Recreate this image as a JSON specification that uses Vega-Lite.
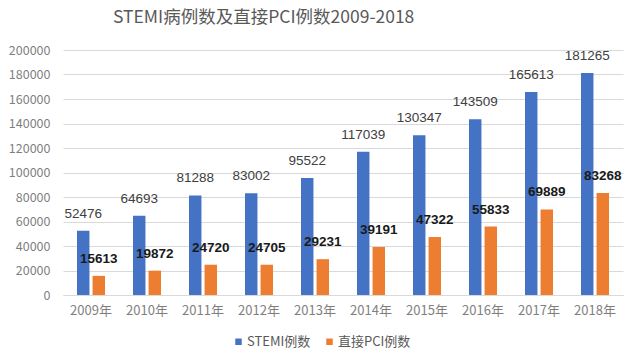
{
  "$schema": "https://vega.github.io/schema/vega-lite/v6.json",
  "autosize": {"type": "none"},
  "width": 560,
  "height": 245,
  "padding": {"left": 63, "top": 50, "right": 7, "bottom": 64},
  "background": "white",
  "config": {"view": {"stroke": null}, "font": "Noto Sans CJK SC"},
  "title": {
    "text": "STEMI病例数及直接PCI例数2009-2018",
    "anchor": "start",
    "frame": "group",
    "dx": 50,
    "offset": 18,
    "fontSize": 17.5,
    "fontWeight": "normal",
    "color": "#595959",
    "font": "Noto Sans CJK SC"
  },
  "data": {
    "values": [
      {"year": "2009年", "series": "STEMI例数", "value": 52476},
      {"year": "2009年", "series": "直接PCI例数", "value": 15613},
      {"year": "2010年", "series": "STEMI例数", "value": 64693},
      {"year": "2010年", "series": "直接PCI例数", "value": 19872},
      {"year": "2011年", "series": "STEMI例数", "value": 81288},
      {"year": "2011年", "series": "直接PCI例数", "value": 24720},
      {"year": "2012年", "series": "STEMI例数", "value": 83002},
      {"year": "2012年", "series": "直接PCI例数", "value": 24705},
      {"year": "2013年", "series": "STEMI例数", "value": 95522},
      {"year": "2013年", "series": "直接PCI例数", "value": 29231},
      {"year": "2014年", "series": "STEMI例数", "value": 117039},
      {"year": "2014年", "series": "直接PCI例数", "value": 39191},
      {"year": "2015年", "series": "STEMI例数", "value": 130347},
      {"year": "2015年", "series": "直接PCI例数", "value": 47322},
      {"year": "2016年", "series": "STEMI例数", "value": 143509},
      {"year": "2016年", "series": "直接PCI例数", "value": 55833},
      {"year": "2017年", "series": "STEMI例数", "value": 165613},
      {"year": "2017年", "series": "直接PCI例数", "value": 69889},
      {"year": "2018年", "series": "STEMI例数", "value": 181265},
      {"year": "2018年", "series": "直接PCI例数", "value": 83268}
    ]
  },
  "encoding": {
    "x": {
      "field": "year", "type": "nominal", "sort": null,
      "scale": {"paddingInner": 0.5, "paddingOuter": 0.25},
      "axis": {"title": null, "labelAngle": 0, "labelFontSize": 13, "labelColor": "#7f7f7f", "labelPadding": 9, "ticks": false, "domainColor": "#d9d9d9", "labelFont": "Noto Sans CJK SC"}
    },
    "xOffset": {"field": "series", "type": "nominal", "sort": ["STEMI例数", "直接PCI例数"], "scale": {"paddingInner": 0.2}},
    "y": {
      "field": "value", "type": "quantitative",
      "scale": {"domain": [0, 200000]},
      "axis": {"title": null, "values": [0,20000,40000,60000,80000,100000,120000,140000,160000,180000,200000], "format": "d", "labelOverlap": false, "labelFontSize": 12.5, "labelColor": "#7f7f7f", "domain": false, "ticks": false, "gridColor": "#d9d9d9", "labelPadding": 13, "labelFont": "Noto Sans CJK SC"}
    }
  },
  "layer": [
    {
      "mark": {"type": "bar"},
      "encoding": {
        "color": {
          "field": "series", "type": "nominal",
          "sort": ["STEMI例数", "直接PCI例数"],
          "scale": {"domain": ["STEMI例数", "直接PCI例数"], "range": ["#4472C4", "#ED7D31"]},
          "legend": {
            "title": null, "orient": "none", "direction": "horizontal",
            "legendX": 169, "legendY": 285,
            "symbolType": "square", "symbolSize": 42, "symbolStrokeWidth": 0,
            "labelFontSize": 13, "labelColor": "#595959", "labelOffset": 2,
            "columnPadding": 12, "labelFont": "Noto Sans CJK SC"
          }
        }
      }
    },
    {
      "transform": [{"filter": "datum.series === 'STEMI例数'"}],
      "mark": {"type": "text", "dy": -13, "baseline": "alphabetic", "fontSize": 13.5, "color": "#404040", "font": "Liberation Sans"},
      "encoding": {"text": {"field": "value", "type": "quantitative", "format": "d"}}
    },
    {
      "transform": [{"filter": "datum.series === '直接PCI例数'"}],
      "mark": {"type": "text", "dy": -13, "baseline": "alphabetic", "fontSize": 13.5, "fontWeight": "bold", "color": "#1a1a1a", "font": "Liberation Sans"},
      "encoding": {"text": {"field": "value", "type": "quantitative", "format": "d"}}
    }
  ]
}
